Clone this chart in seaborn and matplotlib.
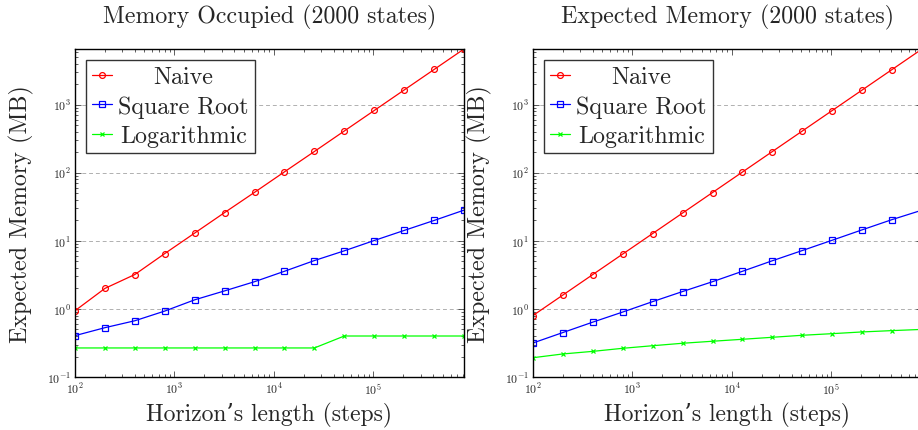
import matplotlib
matplotlib.use("Agg")
import matplotlib.pyplot as plt
from matplotlib.offsetbox import HPacker, DrawingArea
import seaborn as sns
import numpy as np
import pandas as pd

# ---- data ----
steps = [100, 200, 400, 800, 1600, 3200, 6400, 12800, 25600, 51200,
         102400, 204800, 409600, 819200]

occ_naive = [0.94, 2.0, 3.2, 6.5, 13.0, 26.0, 51.5, 103, 205, 410, 820, 1640, 3280, 6560]
occ_sqrt = [0.405, 0.53, 0.67, 0.93, 1.36, 1.84, 2.51, 3.57, 5.13, 7.13, 10.1, 14.2, 19.9, 28.2]
occ_log = [0.267, 0.267, 0.267, 0.267, 0.267, 0.267, 0.267, 0.267, 0.267,
           0.40, 0.40, 0.40, 0.40, 0.40]

exp_naive = [0.80, 1.6, 3.2, 6.4, 12.8, 25.6, 51.2, 102.4, 204.8, 409.6, 819.2, 1638, 3277, 6554]
exp_sqrt = [0.316, 0.45, 0.64, 0.90, 1.28, 1.80, 2.51, 3.57, 5.1, 7.2, 10.2, 14.5, 20.5, 28.2]
exp_log = [0.192, 0.218, 0.238, 0.264, 0.288, 0.313, 0.335, 0.358, 0.383, 0.41,
           0.433, 0.459, 0.48, 0.50]

titles = ["Memory Occupied (2000 states)", "Expected Memory (2000 states)"]
series_names = ["Naive", "Square Root", "Logarithmic"]
xlabel = "Horizon\u2019s length (steps)"
ylabel = "Expected Memory (MB)"

sns.set_style("ticks")
plt.rcParams["font.family"] = ["cmr10", "DejaVu Serif"]
plt.rcParams["mathtext.fontset"] = "cm"
plt.rcParams["axes.formatter.use_mathtext"] = True

fig = plt.figure(figsize=(9.18, 4.31), dpi=100)
W, H = 918, 431
ax_w, ax_h = 389, 328
ax1 = fig.add_axes([75 / W, (H - 378) / H, ax_w / W, ax_h / H])
ax2 = fig.add_axes([533 / W, (H - 378) / H, ax_w / W, ax_h / H])

styles = [
    dict(color="#ff0000", marker="o", markersize=4.2, markerfacecolor="none",
         markeredgecolor="#ff0000", markeredgewidth=0.9),
    dict(color="#0000ff", marker="s", markersize=4.0, markerfacecolor="none",
         markeredgecolor="#0000ff", markeredgewidth=0.9),
    dict(color="#00ff00", marker="x", markersize=2.8, markeredgecolor="#00ff00",
         markeredgewidth=0.9),
]

datasets = [(occ_naive, occ_sqrt, occ_log), (exp_naive, exp_sqrt, exp_log)]
legends = []

for ax, data, title in zip([ax1, ax2], datasets, titles):
    for vals, name, st in zip(data, series_names, styles):
        df = pd.DataFrame({"steps": steps, "mem": vals})
        sns.lineplot(data=df, x="steps", y="mem", ax=ax, label=name,
                     linewidth=0.9, **st)
    ax.set_xscale("log")
    ax.set_yscale("log")
    ax.set_xlim(steps[0], steps[-1])
    ax.set_ylim(0.1, 6560)
    ax.set_xticks([1e2, 1e3, 1e4, 1e5])
    ax.set_yticks([1e-1, 1e0, 1e1, 1e2, 1e3])
    ax.yaxis.grid(True, which="major", linestyle=(0, (4, 3)), color="#b0b0b0",
                  linewidth=0.7)
    ax.xaxis.grid(False)
    ax.tick_params(which="both", direction="in", top=True, right=True,
                   labelsize=8.5, width=0.6, color="#444444", pad=3)
    ax.tick_params(which="major", length=4)
    ax.tick_params(which="minor", length=2.2)
    for sp in ax.spines.values():
        sp.set_visible(True)
        sp.set_linewidth(1.0)
        sp.set_color("black")
    ax.set_title(title, fontsize=17.2, pad=19)
    ax.set_xlabel(xlabel, fontsize=17, labelpad=4)
    ax.set_ylabel(ylabel, fontsize=17.3, labelpad=9)
    leg = ax.legend(loc="upper left", fontsize=17.3, frameon=True, fancybox=False,
                    edgecolor="#333333", framealpha=1, handlelength=0.85,
                    handletextpad=0.25, borderpad=0.25, labelspacing=0.3,
                    borderaxespad=0.45)
    leg.get_frame().set_linewidth(1.0)
    legends.append(leg)

# centre the legend labels within the label column
fig.canvas.draw()
renderer = fig.canvas.get_renderer()
px_per_pt = fig.dpi / 72.0
for leg in legends:
    texts = leg.get_texts()
    widths = {t.get_text(): t.get_window_extent(renderer).width for t in texts}
    maxw = max(widths.values())
    for col in leg._legend_handle_box.get_children():
        children = col.get_children()
        for item in children:
            parts = item.get_children()
            ta = parts[1]
            txt = ta._text.get_text()
            d = (maxw - widths[txt]) / px_per_pt / 2.0
            box = HPacker(pad=0, sep=0, align="baseline",
                          children=[DrawingArea(d, 0), ta, DrawingArea(d, 0)])
            box.set_figure(fig)
            parts[1] = box

fig.savefig("out.png", dpi=100)
